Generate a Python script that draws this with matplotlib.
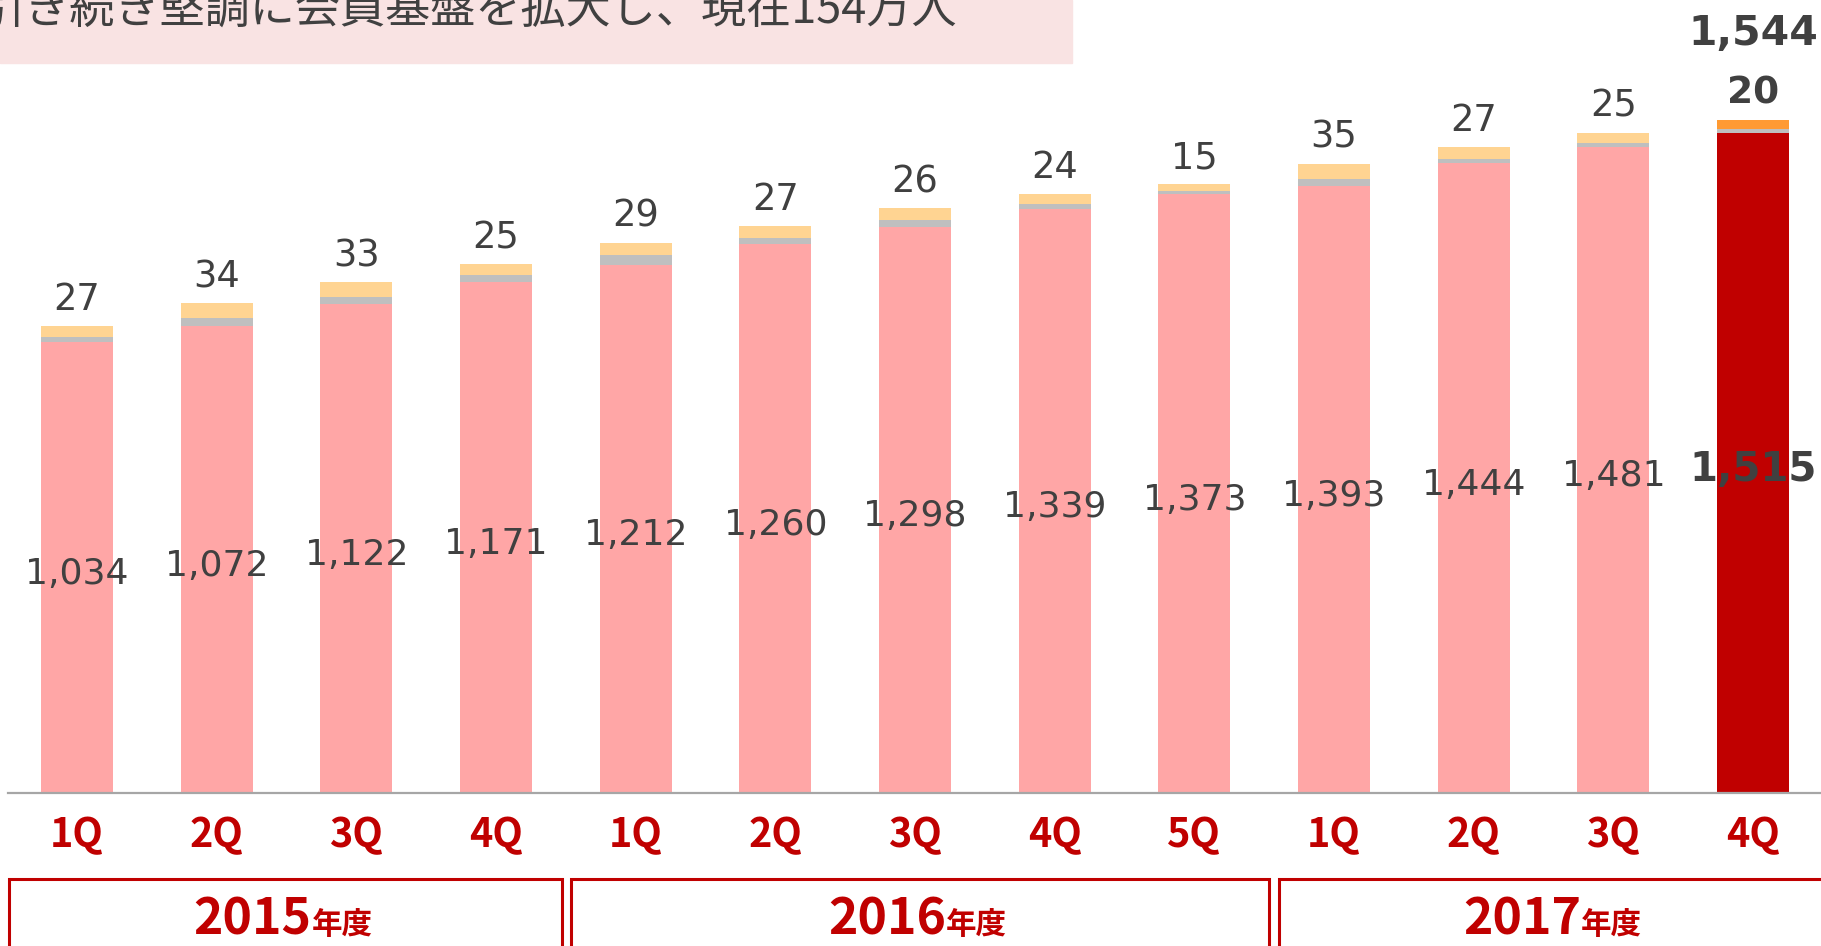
import matplotlib.pyplot as plt
from matplotlib.patches import Rectangle

# 会員数（万人）
quarters = ['1Q', '2Q', '3Q', '4Q', '1Q', '2Q', '3Q', '4Q', '5Q', '1Q', '2Q', '3Q', '4Q']
members = [1034, 1072, 1122, 1171, 1212, 1260, 1298, 1339, 1373, 1393, 1444, 1481, 1515]
others = [11, 17, 16, 17, 21, 14, 17, 11, 8, 15, 11, 9, 9]
new_members = [27, 34, 33, 25, 29, 27, 26, 24, 15, 35, 27, 25, 20]
years = ['2015', '2016', '2017']
year_spans = [(0, 3), (4, 8), (9, 12)]
title = '引き続き堅調に会員基盤を拡大し、現在154万人'

RED = '#c00000'
GRAY_TXT = '#404040'
CJK = ['Noto Sans CJK JP', 'DejaVu Sans']

n = len(members)
x = list(range(n))
main_colors = ['#ffa6a6'] * (n - 1) + [RED]
top_colors = ['#ffd492'] * (n - 1) + ['#ff9a33']
bottoms2 = [m + o for m, o in zip(members, others)]
totals = [b + t for b, t in zip(bottoms2, new_members)]

W, H = 1821, 946
fig = plt.figure(figsize=(W / 100, H / 100), dpi=100)
ax = fig.add_axes([8 / W, 153 / H, 1813 / W, 793 / H])
ax.patch.set_visible(False)

bw = 0.5155
ax.bar(x, members, width=bw, color=main_colors)
ax.bar(x, others, width=bw, bottom=members, color='#bfbfbf')
ax.bar(x, new_members, width=bw, bottom=bottoms2, color=top_colors)

ax.set_xlim(-0.494, 12.487)
ax.set_ylim(0, 1819)
for s in ['top', 'left', 'right']:
    ax.spines[s].set_visible(False)
ax.spines['bottom'].set_color('#a6a6a6')
ax.spines['bottom'].set_linewidth(1.6)
ax.set_xticks([])
ax.set_yticks([])

last = n - 1
for i in x:
    bold = i == last
    ax.annotate(f'{members[i]:,}', (i, members[i] / 2), xytext=(0, -2), textcoords='offset points',
                ha='center', va='center_baseline', fontsize=29 if bold else 26,
                fontweight='bold' if bold else 'normal', color=GRAY_TXT)
    ax.annotate(f'{new_members[i]}', (i, totals[i]), xytext=(0, 11.5), textcoords='offset points',
                ha='center', va='baseline', fontsize=27 if bold else 26.5,
                fontweight='bold' if bold else 'normal', color=GRAY_TXT)
ax.annotate(f'{totals[last]:,}', (last, totals[last]), xytext=(0, 54), textcoords='offset points',
            ha='center', va='baseline', fontsize=29.5, fontweight='bold', color=GRAY_TXT)

xt = ax.get_xaxis_transform()
for i, q in enumerate(quarters):
    ax.text(i, -54.5 / 793, q, transform=xt, ha='center', va='baseline', fontsize=28.5,
            fontweight='bold', color=RED, family=CJK)

# 年度の枠（左右の余白）
box_pad = [(0.487, 0.473), (0.463, 0.535), (0.394, 0.56)]
for yr, (a, b), (pl, pr) in zip(years, year_spans, box_pad):
    ax.add_patch(Rectangle((a - pl, -0.30), (b - a) + pl + pr, 0.30 - 86 / 793, transform=xt,
                           fill=False, edgecolor=RED, linewidth=2.2, clip_on=False))
    c = (a - pl + b + pr) / 2
    ax.annotate(yr, (c, -141 / 793), xycoords=xt, xytext=(18.7, 0), textcoords='offset points',
                ha='right', va='baseline', fontsize=36, fontweight='bold', color=RED, family=CJK)
    ax.annotate('年度', (c, -141 / 793), xycoords=xt, xytext=(18.7, 0), textcoords='offset points',
                ha='left', va='baseline', fontsize=22, fontweight='bold', color=RED, family=CJK)

# タイトル帯
fig.add_artist(Rectangle((0, (H - 63) / H), 1072 / W, 63 / H, transform=fig.transFigure,
                         color='#f9e3e3', zorder=1))
fig.text(-20 / W, (H - 23) / H, title, fontsize=32.5, family=CJK, color=GRAY_TXT,
         va='baseline', ha='left', zorder=3)

fig.savefig('out.png', dpi=100)
